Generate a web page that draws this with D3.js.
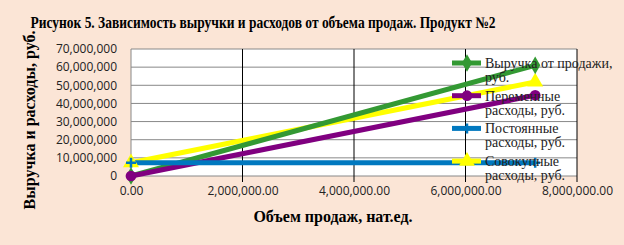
<!DOCTYPE html>
<html><head><meta charset="utf-8">
<script src="https://cdn.jsdelivr.net/npm/d3@7"></script>
<style>
html,body{margin:0;padding:0;background:#fbe5d6;}
svg{display:block;}
</style></head>
<body><svg id="c" width="624" height="245"></svg>
<script>
const volume = [0, 7250000];
const revenue = [0, 61000000];
const variableCosts = [0, 44500000];
const fixedCosts = [7300000, 7300000];
const totalCosts = [7300000, 51800000];
const yTicks = [0,10000000,20000000,30000000,40000000,50000000,60000000,70000000];
const xTicks = [0,2000000,4000000,6000000,8000000];
const seriesNames = ["Выручка от продажи, руб.","Переменные расходы, руб.","Постоянные расходы, руб.","Совокупные расходы, руб."];

const svg = d3.select("#c");
const W=624,H=245;
const m={l:131,r:577,t:49,b:176};
const x=d3.scaleLinear().domain([0,8000000]).range([m.l,m.r]);
const y=d3.scaleLinear().domain([0,70000000]).range([m.b,m.t]);

svg.append("rect").attr("width",W).attr("height",H).attr("fill","#fbe5d6");
svg.append("rect").attr("x",m.l).attr("y",m.t).attr("width",m.r-m.l).attr("height",m.b-m.t).attr("fill","#ffffff");

// horizontal gridlines
svg.append("g").selectAll("line").data(yTicks).join("line")
 .attr("x1",m.l).attr("x2",m.r).attr("y1",d=>y(d)).attr("y2",d=>y(d))
 .attr("stroke","#888").attr("stroke-width",1);
// vertical gridlines
svg.append("g").selectAll("line").data(xTicks.slice(1)).join("line")
 .attr("x1",d=>x(d)).attr("x2",d=>x(d)).attr("y1",m.t).attr("y2",m.b+6)
 .attr("stroke","#000").attr("stroke-width",1);
svg.append("line").attr("x1",m.l).attr("x2",m.l).attr("y1",m.t).attr("y2",m.b+6).attr("stroke","#888");

const yAxis=d3.axisLeft(y).tickValues(yTicks).tickSize(0).tickPadding(14).tickFormat(d3.format(","));
const ya=svg.append("g").attr("transform",`translate(${m.l},0)`).call(yAxis);
ya.select(".domain").remove();
ya.selectAll("text").attr("font-family","'Open Sans', 'Liberation Sans', sans-serif").attr("font-size",12).attr("fill","#222");

const xAxis=d3.axisBottom(x).tickValues(xTicks).tickSize(0).tickPadding(10).tickFormat(d3.format(",.2f"));
const xa=svg.append("g").attr("transform",`translate(0,${m.b})`).call(xAxis);
xa.select(".domain").remove();
xa.selectAll("text").attr("font-family","'Open Sans', 'Liberation Sans', sans-serif").attr("font-size",12).attr("fill","#222");

const series=[
 {name:seriesNames[0],vals:revenue,color:"#339933",marker:d3.symbolDiamond},
 {name:seriesNames[1],vals:variableCosts,color:"#800080",marker:d3.symbolCircle},
 {name:seriesNames[2],vals:fixedCosts,color:"#0078bf",marker:"plus"},
 {name:seriesNames[3],vals:totalCosts,color:"#ffff00",marker:d3.symbolTriangle}
];
const drawOrder=[3,0,1,2];
const line=d3.line().x(d=>x(d[0])).y(d=>y(d[1]));
function marker(g,s,cx,cy){
  if(s.marker==="plus"){
    g.append("path").attr("d",`M${cx-5},${cy}H${cx+5}M${cx},${cy-5}V${cy+5}`).attr("stroke",s.color).attr("stroke-width",2.5).attr("fill","none");
  } else {
    g.append("path").attr("d",d3.symbol().type(s.marker).size(s.marker===d3.symbolTriangle?110:90)()).attr("transform",`translate(${cx},${cy})`).attr("fill",s.color);
  }
}
const pg=svg.append("g");
drawOrder.forEach(i=>{
  const s=series[i];
  const pts=volume.map((v,k)=>[v,s.vals[k]]);
  pg.append("path").attr("d",line(pts)).attr("fill","none").attr("stroke",s.color).attr("stroke-width",5);
});
drawOrder.forEach(i=>{
  const s=series[i];
  volume.forEach((v,k)=>marker(pg,s,x(v),y(s.vals[k])));
});

// legend
const lg=svg.append("g");
series.forEach((s,i)=>{
  const ly=63+i*32.7;
  lg.append("line").attr("x1",452).attr("x2",481).attr("y1",ly).attr("y2",ly).attr("stroke",s.color).attr("stroke-width",5);
  marker(lg,s,467,ly);
  const words=s.name.split(" ");
  const l1=i===0?"Выручка от продажи,":words[0];
  const l2=i===0?"руб.":words.slice(1).join(" ");
  lg.append("text").attr("x",485).attr("y",ly+5).text(l1);
  lg.append("text").attr("x",485).attr("y",ly+19).text(l2);
});
lg.selectAll("text").attr("font-family","'Liberation Serif', serif").attr("font-size",14).attr("fill","#222");

// titles
svg.append("text").attr("x",263).attr("y",28).attr("text-anchor","middle")
 .attr("font-family","'Liberation Serif', serif").attr("font-weight","bold").attr("font-size",16)
 .attr("textLength",465).attr("lengthAdjust","spacingAndGlyphs")
 .text("Рисунок 5. Зависимость выручки и расходов от объема продаж. Продукт №2");
svg.append("text").attr("transform","translate(35,120) rotate(-90)").attr("text-anchor","middle")
 .attr("font-family","'Liberation Serif', serif").attr("font-weight","bold").attr("font-size",16)
 .text("Выручка и расходы, руб.");
svg.append("text").attr("x",333).attr("y",222).attr("text-anchor","middle")
 .attr("font-family","'Liberation Serif', serif").attr("font-weight","bold").attr("font-size",16)
 .text("Объем продаж, нат.ед.");
</script></body></html>
